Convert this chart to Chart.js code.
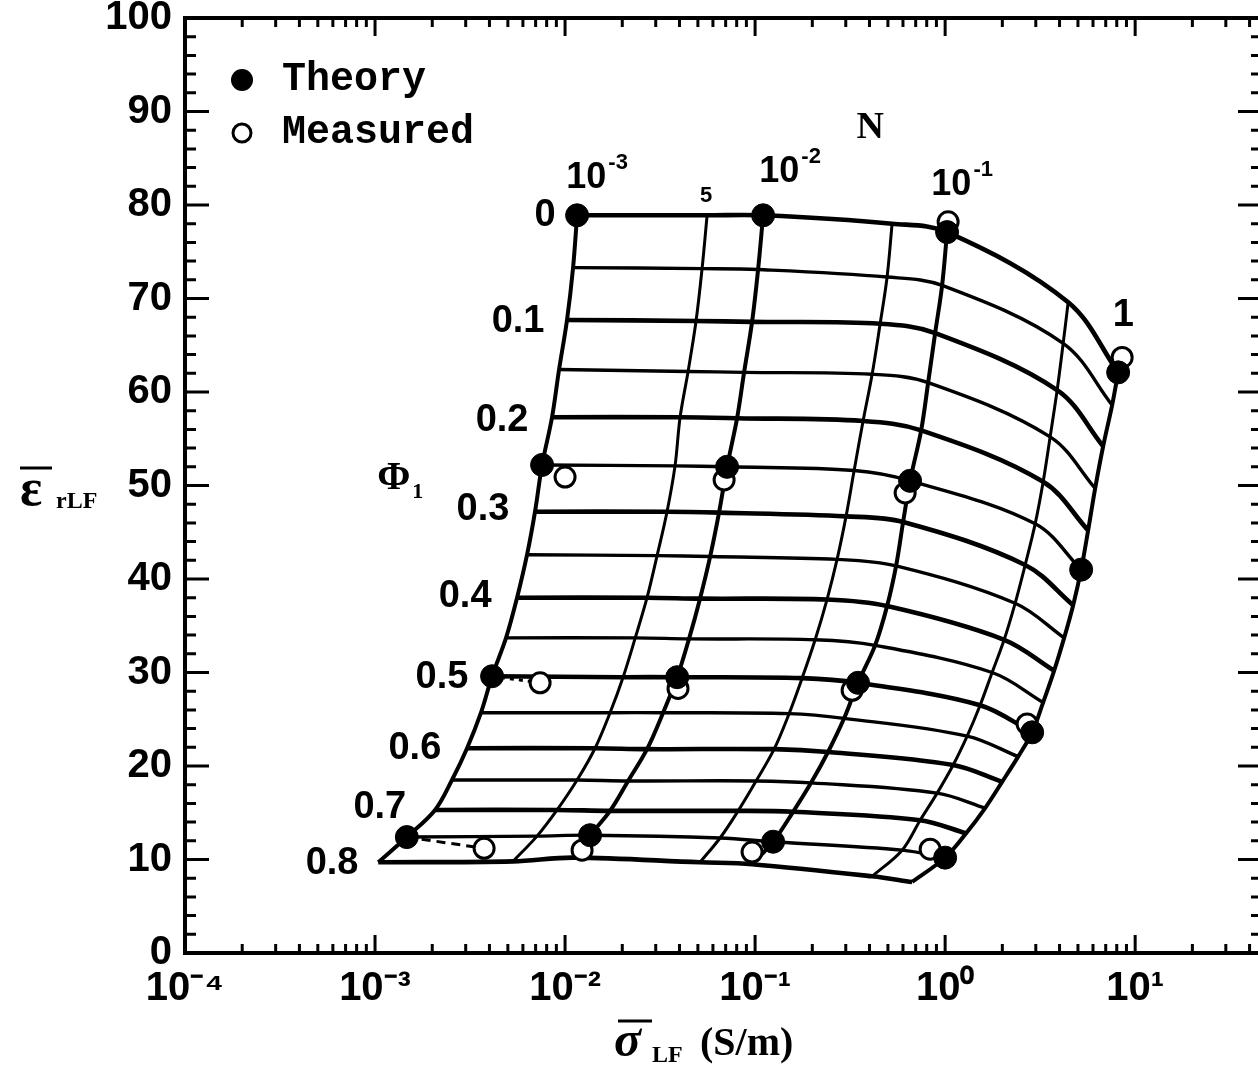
<!DOCTYPE html>
<html>
<head>
<meta charset="utf-8">
<script src="https://cdn.jsdelivr.net/npm/chart.js@4.4.1/dist/chart.umd.min.js"></script>
<style>
html, body { margin: 0; padding: 0; background: #fff; overflow: hidden; }
#wrap { width: 1275px; height: 1068px; }
</style>
</head>
<body>
<div id="wrap"><canvas id="myChart" width="1275" height="1068"></canvas></div>
<script>
// volume fraction Phi1 of each grid row (index along every N curve)
const phiValues = [0, 0.05, 0.1, 0.15, 0.2, 0.25, 0.3, 0.35, 0.4, 0.45, 0.5, 0.55, 0.6, 0.65, 0.7, 0.75, 0.8];

// N = 1e-3
const sigma_N0001 = [0.01157, 0.01102, 0.01024, 0.00930, 0.00854, 0.00757, 0.00695, 0.00631, 0.00559, 0.00489, 0.00413, 0.00361, 0.00305, 0.00254, 0.00207, 0.00147, 0.00104];
const eps_N0001 = [78.9, 73.3, 67.7, 62.4, 57.3, 52.2, 47.2, 42.6, 38.0, 33.7, 29.6, 25.7, 21.9, 18.5, 15.3, 12.4, 9.7];
// N = 5e-3
const sigma_N0005 = [0.0559, 0.0526, 0.0489, 0.0444, 0.0403, 0.0379, 0.0344, 0.0305, 0.0270, 0.0234, 0.0202, 0.01725, 0.01438, 0.01157, 0.00908, 0.00712, 0.00532];
const eps_N0005 = [78.9, 73.2, 67.6, 62.2, 57.3, 52.1, 47.2, 42.5, 38.0, 33.7, 29.5, 25.7, 21.9, 18.5, 15.3, 12.5, 9.8];
// N = 1e-2
const sigma_N001 = [0.1102, 0.1037, 0.0964, 0.0875, 0.0804, 0.0712, 0.0646, 0.0580, 0.0513, 0.0449, 0.0389, 0.0328, 0.0270, 0.02146, 0.01725, 0.01354, 0.01102];
const eps_N001 = [78.9, 73.1, 67.5, 62.1, 57.2, 52.0, 47.1, 42.4, 37.9, 33.6, 29.5, 25.7, 21.8, 18.4, 15.2, 12.6, 10.2];
// N = 5e-2
const sigma_N005 = [0.526, 0.495, 0.455, 0.413, 0.370, 0.332, 0.301, 0.270, 0.239, 0.207, 0.1768, 0.1510, 0.1259, 0.1012, 0.0814, 0.0654, 0.0513];
const eps_N005 = [78.0, 72.3, 67.3, 61.9, 56.9, 51.6, 46.7, 42.1, 37.8, 33.5, 29.4, 25.6, 21.8, 18.4, 15.2, 12.3, 9.7];
// N = 1e-1
const sigma_N01 = [1.024, 0.964, 0.886, 0.814, 0.748, 0.654, 0.601, 0.552, 0.495, 0.428, 0.348, 0.294, 0.242, 0.197, 0.1585, 0.1244, 0.0964];
const eps_N01 = [77.1, 71.4, 66.3, 61.0, 55.9, 50.5, 46.1, 41.4, 37.1, 32.9, 28.9, 25.1, 21.5, 18.2, 15.1, 11.9, 9.5];
// N = 5e-1
const sigma_N05 = [4.441, 4.180, 3.886, 3.569, 3.280, 2.977, 2.637, 2.335, 2.044, 1.767, 1.528, 1.306, 1.102, 0.908, 0.739, 0.594, 0.413];
const eps_N05 = [69.6, 65.2, 60.2, 55.2, 50.4, 45.9, 41.5, 37.4, 33.5, 30.0, 26.5, 23.2, 20.1, 17.1, 14.2, 11.0, 8.2];
// N = 1
const sigma_N1 = [8.137, 7.566, 6.785, 6.159, 5.656, 5.197, 4.718, 4.230, 3.747, 3.280, 2.871, 2.422, 1.995, 1.624, 1.290, 1.000, 0.670];
const eps_N1 = [62.1, 58.6, 54.2, 49.7, 45.2, 41.0, 37.2, 33.7, 30.2, 26.8, 23.6, 21.0, 18.3, 15.5, 12.8, 10.2, 7.6];

// measured points (open circles)
const measSigma = [1.037, 8.54, 0.0100, 0.0687, 0.616, 0.00739, 0.0393, 0.324, 2.70, 0.00375, 0.01229, 0.0964, 0.834];
const measEps = [78.2, 63.7, 50.9, 50.6, 49.2, 28.9, 28.3, 28.1, 24.5, 11.2, 11.0, 10.8, 11.1];

// theory dots sit on the decade N curves at these Phi rows
const theoryRows = [0, 5, 10, 15];

const xTicks = [1e-4, 1e-3, 1e-2, 1e-1, 1, 10];
const yTicks = [0, 10, 20, 30, 40, 50, 60, 70, 80, 90, 100];

const nCurves = [
    { sigma: sigma_N0001, eps: eps_N0001, major: true },
    { sigma: sigma_N0005, eps: eps_N0005, major: false },
    { sigma: sigma_N001, eps: eps_N001, major: true },
    { sigma: sigma_N005, eps: eps_N005, major: false },
    { sigma: sigma_N01, eps: eps_N01, major: true },
    { sigma: sigma_N05, eps: eps_N05, major: false },
    { sigma: sigma_N1, eps: eps_N1, major: true }
];

const XMAX = 46.5;
const INK = "#000";

const datasets = [];

nCurves.forEach(c => {
    datasets.push({
        data: c.sigma.map((s, i) => ({ x: s, y: c.eps[i] })),
        borderColor: INK, borderWidth: c.major ? 4 : 3,
        pointRadius: 0, tension: 0.35, fill: false, order: 5
    });
});

phiValues.forEach((phi, j) => {
    datasets.push({
        data: nCurves.map(c => ({ x: c.sigma[j], y: c.eps[j] })),
        borderColor: INK, borderWidth: (j % 2 === 0) ? 4.6 : 3.4,
        pointRadius: 0, tension: 0.35, fill: false, order: 5
    });
});

// dotted links between theory and measured values at the left edge
datasets.push({
    data: [{ x: sigma_N0001[10], y: eps_N0001[10] }, { x: measSigma[5], y: measEps[5] }],
    borderColor: INK, borderWidth: 3, borderDash: [4, 5], pointRadius: 0, order: 4
});
datasets.push({
    data: [{ x: sigma_N0001[15], y: eps_N0001[15] }, { x: measSigma[9], y: measEps[9] }],
    borderColor: INK, borderWidth: 3, borderDash: [9, 6], pointRadius: 0, order: 4
});

datasets.push({
    label: "Measured",
    data: measSigma.map((s, i) => ({ x: s, y: measEps[i] })),
    showLine: false, pointRadius: 10, pointBackgroundColor: "#fff",
    pointBorderColor: INK, pointBorderWidth: 3, order: 2
});

const theoryPts = [];
[nCurves[0], nCurves[2], nCurves[4], nCurves[6]].forEach(c => {
    theoryRows.forEach(r => theoryPts.push({ x: c.sigma[r], y: c.eps[r] }));
});
datasets.push({
    label: "Theory",
    data: theoryPts,
    showLine: false, pointRadius: 11.5, pointBackgroundColor: INK,
    pointBorderColor: INK, pointBorderWidth: 1, order: 1
});

// text on the chart, anchored in data units
const phiLabels = [
    { t: "0", x: 0.00785, y: 78.9 },
    { t: "0.1", x: 0.00566, y: 67.5 },
    { t: "0.2", x: 0.00466, y: 57.0 },
    { t: "0.3", x: 0.00370, y: 47.4 },
    { t: "0.4", x: 0.00298, y: 38.1 },
    { t: "0.5", x: 0.00225, y: 29.5 },
    { t: "0.6", x: 0.00162, y: 21.9 },
    { t: "0.7", x: 0.00106, y: 15.6 },
    { t: "0.8", x: 0.000594, y: 9.6 },
    { t: "1", x: 8.65, y: 68.2 },
    { t: "5", x: 0.0552, y: 81.0, small: true }
];
const nPowLabels = [
    { e: "-3", x: 0.01474, y: 82.9 },
    { e: "-2", x: 0.1528, y: 83.5 },
    { e: "-1", x: 1.229, y: 82.1 }
];

const sup = { "-": "\u207B", "0": "\u2070", "1": "\u00B9", "2": "\u00B2", "3": "\u00B3", "4": "\u2074" };
function powText(v) {
    const e = String(Math.round(Math.log10(v)));
    return "10" + e.split("").map(ch => sup[ch]).join("");
}

const SANS = "'Liberation Sans', Arial, sans-serif";
const SERIF = "'Liberation Serif', 'DejaVu Serif', serif";
const MONO = "'Liberation Mono', 'DejaVu Sans Mono', monospace";

const framePlugin = {
    id: "frame",
    afterDatasetsDraw(chart) {
        const { ctx, chartArea: a, scales: { x, y } } = chart;
        ctx.save();
        ctx.strokeStyle = INK;
        ctx.lineCap = "butt";
        // minor/major ticks on all four sides, pointing inwards
        ctx.lineWidth = 3;
        for (let k = -4; k <= 1; k++) {
            for (let m = 1; m <= 9; m++) {
                const v = m * Math.pow(10, k);
                if (v > XMAX) continue;
                const px = x.getPixelForValue(v);
                const len = m === 1 ? 18 : 9;
                ctx.beginPath();
                ctx.moveTo(px, a.bottom); ctx.lineTo(px, a.bottom - len);
                ctx.moveTo(px, a.top); ctx.lineTo(px, a.top + len);
                ctx.stroke();
            }
        }
        for (let v = 0; v <= 100; v += 2) {
            const py = y.getPixelForValue(v);
            const len = v % 10 === 0 ? 24 : 11;
            ctx.beginPath();
            ctx.moveTo(a.left, py); ctx.lineTo(a.left + len, py);
            ctx.moveTo(a.right, py); ctx.lineTo(a.right - len, py);
            ctx.stroke();
        }
        ctx.lineWidth = 4;
        ctx.strokeRect(a.left, a.top, a.right - a.left, a.bottom - a.top);
        ctx.restore();
    },
    afterDraw(chart) {
        const { ctx, chartArea: a, scales: { x, y } } = chart;
        ctx.save();
        ctx.fillStyle = INK;
        ctx.strokeStyle = INK;
        ctx.textBaseline = "middle";
        ctx.textAlign = "center";

        phiLabels.forEach(l => {
            ctx.font = l.small ? "bold 22px " + SANS : "bold 38px " + SANS;
            ctx.fillText(l.t, x.getPixelForValue(l.x), y.getPixelForValue(l.y));
        });
        nPowLabels.forEach(l => {
            const cx = x.getPixelForValue(l.x), cy = y.getPixelForValue(l.y);
            ctx.font = "bold 36px " + SANS;
            const wb = ctx.measureText("10").width;
            ctx.font = "bold 22px " + SANS;
            const we = ctx.measureText(l.e).width;
            const left = cx - (wb + we + 2) / 2;
            ctx.textAlign = "left";
            ctx.font = "bold 36px " + SANS;
            ctx.fillText("10", left, cy);
            ctx.font = "bold 22px " + SANS;
            ctx.fillText(l.e, left + wb + 2, cy - 15);
            ctx.textAlign = "center";
        });

        // N and Phi1 captions
        ctx.font = "bold 38px " + SERIF;
        ctx.fillText("N", x.getPixelForValue(0.403), y.getPixelForValue(88.2));
        const fx = x.getPixelForValue(0.00135), fy = y.getPixelForValue(50.3);
        ctx.font = "bold 40px " + SERIF;
        ctx.fillText("\u03A6", fx - 6, fy - 4);
        ctx.font = "bold 22px " + SERIF;
        ctx.fillText("1", fx + 18, fy + 10);

        // legend
        const lx = a.left + 57, ly1 = a.top + 62, ly2 = a.top + 115;
        ctx.beginPath(); ctx.arc(lx, ly1, 11, 0, 2 * Math.PI); ctx.fill();
        ctx.lineWidth = 3;
        ctx.beginPath(); ctx.arc(lx, ly2, 9, 0, 2 * Math.PI); ctx.stroke();
        ctx.textAlign = "left";
        ctx.font = "bold 40px " + MONO;
        ctx.fillText("Theory", a.left + 97, ly1);
        ctx.fillText("Measured", a.left + 97, ly2);

        // axis titles
        ctx.textAlign = "left";
        ctx.font = "bold 52px " + SERIF;
        ctx.fillText("\u03B5", 20, 492);
        ctx.lineWidth = 3;
        ctx.beginPath(); ctx.moveTo(20, 468); ctx.lineTo(52, 468); ctx.stroke();
        ctx.font = "bold 24px " + SERIF;
        ctx.fillText("rLF", 56, 502);

        ctx.font = "italic bold 50px " + SERIF;
        ctx.fillText("\u03C3", 614, 1043);
        ctx.beginPath(); ctx.moveTo(618, 1021); ctx.lineTo(652, 1021); ctx.stroke();
        ctx.font = "bold 24px " + SERIF;
        ctx.fillText("LF", 652, 1056);
        ctx.font = "bold 40px " + SERIF;
        ctx.fillText("(S/m)", 700, 1045);
        ctx.restore();
    }
};

new Chart("myChart", {
    type: "line",
    data: { datasets: datasets },
    options: {
        responsive: false,
        animation: false,
        layout: { padding: { top: 18, right: 4, left: 0, bottom: 0 } },
        plugins: { legend: { display: false }, tooltip: { enabled: false } },
        scales: {
            x: {
                type: "logarithmic",
                min: 1e-4,
                max: XMAX,
                afterFit: s => { s.height = 115; s.paddingLeft = 0; s.paddingRight = 0; },
                afterBuildTicks: s => { s.ticks = xTicks.map(v => ({ value: v })); },
                grid: { display: false, drawTicks: false },
                border: { display: false },
                ticks: {
                    callback: v => powText(v),
                    color: INK,
                    font: { family: SANS, size: 40, weight: "bold" },
                    padding: 12,
                    maxRotation: 0,
                    autoSkip: false
                }
            },
            y: {
                type: "linear",
                min: 0,
                max: 100,
                afterFit: s => { s.width = 185; s.paddingTop = 0; s.paddingBottom = 0; },
                afterBuildTicks: s => { s.ticks = yTicks.map(v => ({ value: v })); },
                grid: { display: false, drawTicks: false },
                border: { display: false },
                ticks: {
                    color: INK,
                    font: { family: SANS, size: 40, weight: "bold" },
                    padding: 13
                }
            }
        }
    },
    plugins: [framePlugin]
});
</script>
</body>
</html>
